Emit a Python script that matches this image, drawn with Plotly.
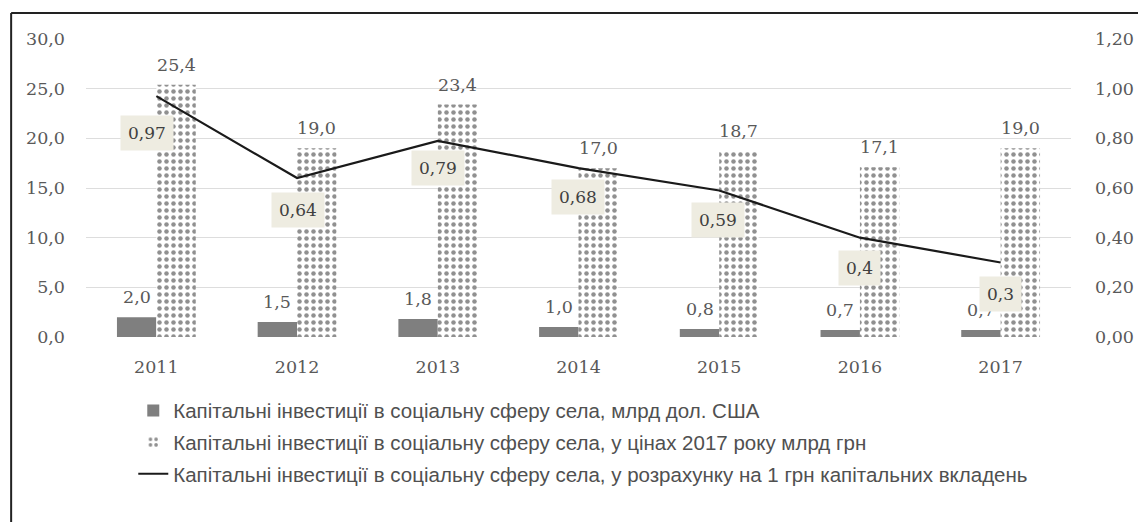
import plotly.graph_objects as go

years = ["2011", "2012", "2013", "2014", "2015", "2016", "2017"]
usd_bln = [2.0, 1.5, 1.8, 1.0, 0.8, 0.7, 0.7]
uah_bln_2017 = [25.4, 19.0, 23.4, 17.0, 18.7, 17.1, 19.0]
per_uah = [0.97, 0.64, 0.79, 0.68, 0.59, 0.4, 0.3]
per_uah_labels = ["0,97", "0,64", "0,79", "0,68", "0,59", "0,4", "0,3"]

name_usd = "Капітальні інвестиції в соціальну сферу села, млрд дол. США"
name_uah = "Капітальні інвестиції в соціальну сферу села, у цінах 2017 року млрд грн"
name_per = "Капітальні інвестиції в соціальну сферу села, у розрахунку на 1 грн капітальних вкладень"

TXT = "#595959"
NUMFONT = dict(family="DejaVu Serif", size=17.5, color=TXT)
LEGFONT = dict(family="Liberation Sans, sans-serif", size=20.5, color="#505050")
BARGAP = 0.44
HALF = (1 - BARGAP) / 4  # offset of each bar centre from its category centre

fig = go.Figure()
fig.add_trace(go.Bar(
    x=years, y=usd_bln, name=name_usd, legendgroup="a",
    marker=dict(color="#7f7f7f", line=dict(width=0)),
))
fig.add_trace(go.Bar(
    x=years, y=uah_bln_2017, name=name_uah, legendgroup="b",
    marker=dict(color="white", line=dict(width=0),
                pattern=dict(shape=".", fgcolor="#222222", bgcolor="white",
                             size=7, solidity=0.33)),
))
fig.add_trace(go.Scatter(
    x=years, y=per_uah, name=name_per, legendgroup="c", yaxis="y2",
    mode="lines", line=dict(color="#1a1a1a", width=2.2),
    cliponaxis=False,
))

# bar value labels
for i, (a, b) in enumerate(zip(usd_bln, uah_bln_2017)):
    for xv, yv in ((i - HALF, a), (i + HALF, b)):
        fig.add_annotation(
            x=xv, y=yv, xref="x", yref="y", text=f"{yv:.1f}".replace(".", ","),
            showarrow=False, yanchor="bottom", yshift=8, font=NUMFONT,
        )

# line value labels
xshifts = [-9, 1, 0, -1, -1, 0, 0]
yshifts = [-37, -32, -27, -29, -30, -30, -31]
for i, (v, lab) in enumerate(zip(per_uah, per_uah_labels)):
    fig.add_annotation(
        x=i, y=v, xref="x", yref="y2", text=lab, showarrow=False,
        xshift=xshifts[i], yshift=yshifts[i],
        bgcolor="#EEECE1", borderpad=7,
        font=dict(family="DejaVu Serif", size=17, color="#404040"),
    )

# outer frame (top and left edges visible in the picture)
fig.add_shape(type="line", xref="paper", yref="paper",
              x0=-0.076, x1=1.2, y0=1.087, y1=1.087,
              line=dict(color="#222222", width=2))
fig.add_shape(type="line", xref="paper", yref="paper",
              x0=-0.076, x1=-0.076, y0=1.087, y1=-0.7,
              line=dict(color="#222222", width=2))

fig.update_layout(
    width=1138, height=514,
    margin=dict(l=78, r=62, t=31, b=185),
    paper_bgcolor="white", plot_bgcolor="white",
    separators=", ",
    barmode="group", bargap=BARGAP, bargroupgap=0,
    showlegend=True,
    legend=dict(
        x=0.048, y=-0.18, xanchor="left", yanchor="top",
        orientation="v", traceorder="grouped", tracegroupgap=2,
        font=LEGFONT, itemwidth=30, bgcolor="rgba(0,0,0,0)",
    ),
    xaxis=dict(
        type="category", range=[-0.5, len(years) - 0.5],
        showgrid=False, zeroline=False, showline=False,
        ticks="", ticklabelstandoff=17, tickfont=NUMFONT,
    ),
    yaxis=dict(
        range=[0, 30], dtick=5, tickformat=".1f",
        showgrid=True, gridcolor="#dddddd", gridwidth=1,
        zeroline=False, showline=False, ticks="",
        ticklabelstandoff=20, tickfont=NUMFONT,
    ),
    yaxis2=dict(
        range=[0, 1.2], dtick=0.2, tickformat=".2f",
        overlaying="y", side="right",
        showgrid=False, zeroline=False, showline=False, ticks="",
        ticklabelstandoff=23, tickfont=NUMFONT,
    ),
)

fig.write_html("out.html")
